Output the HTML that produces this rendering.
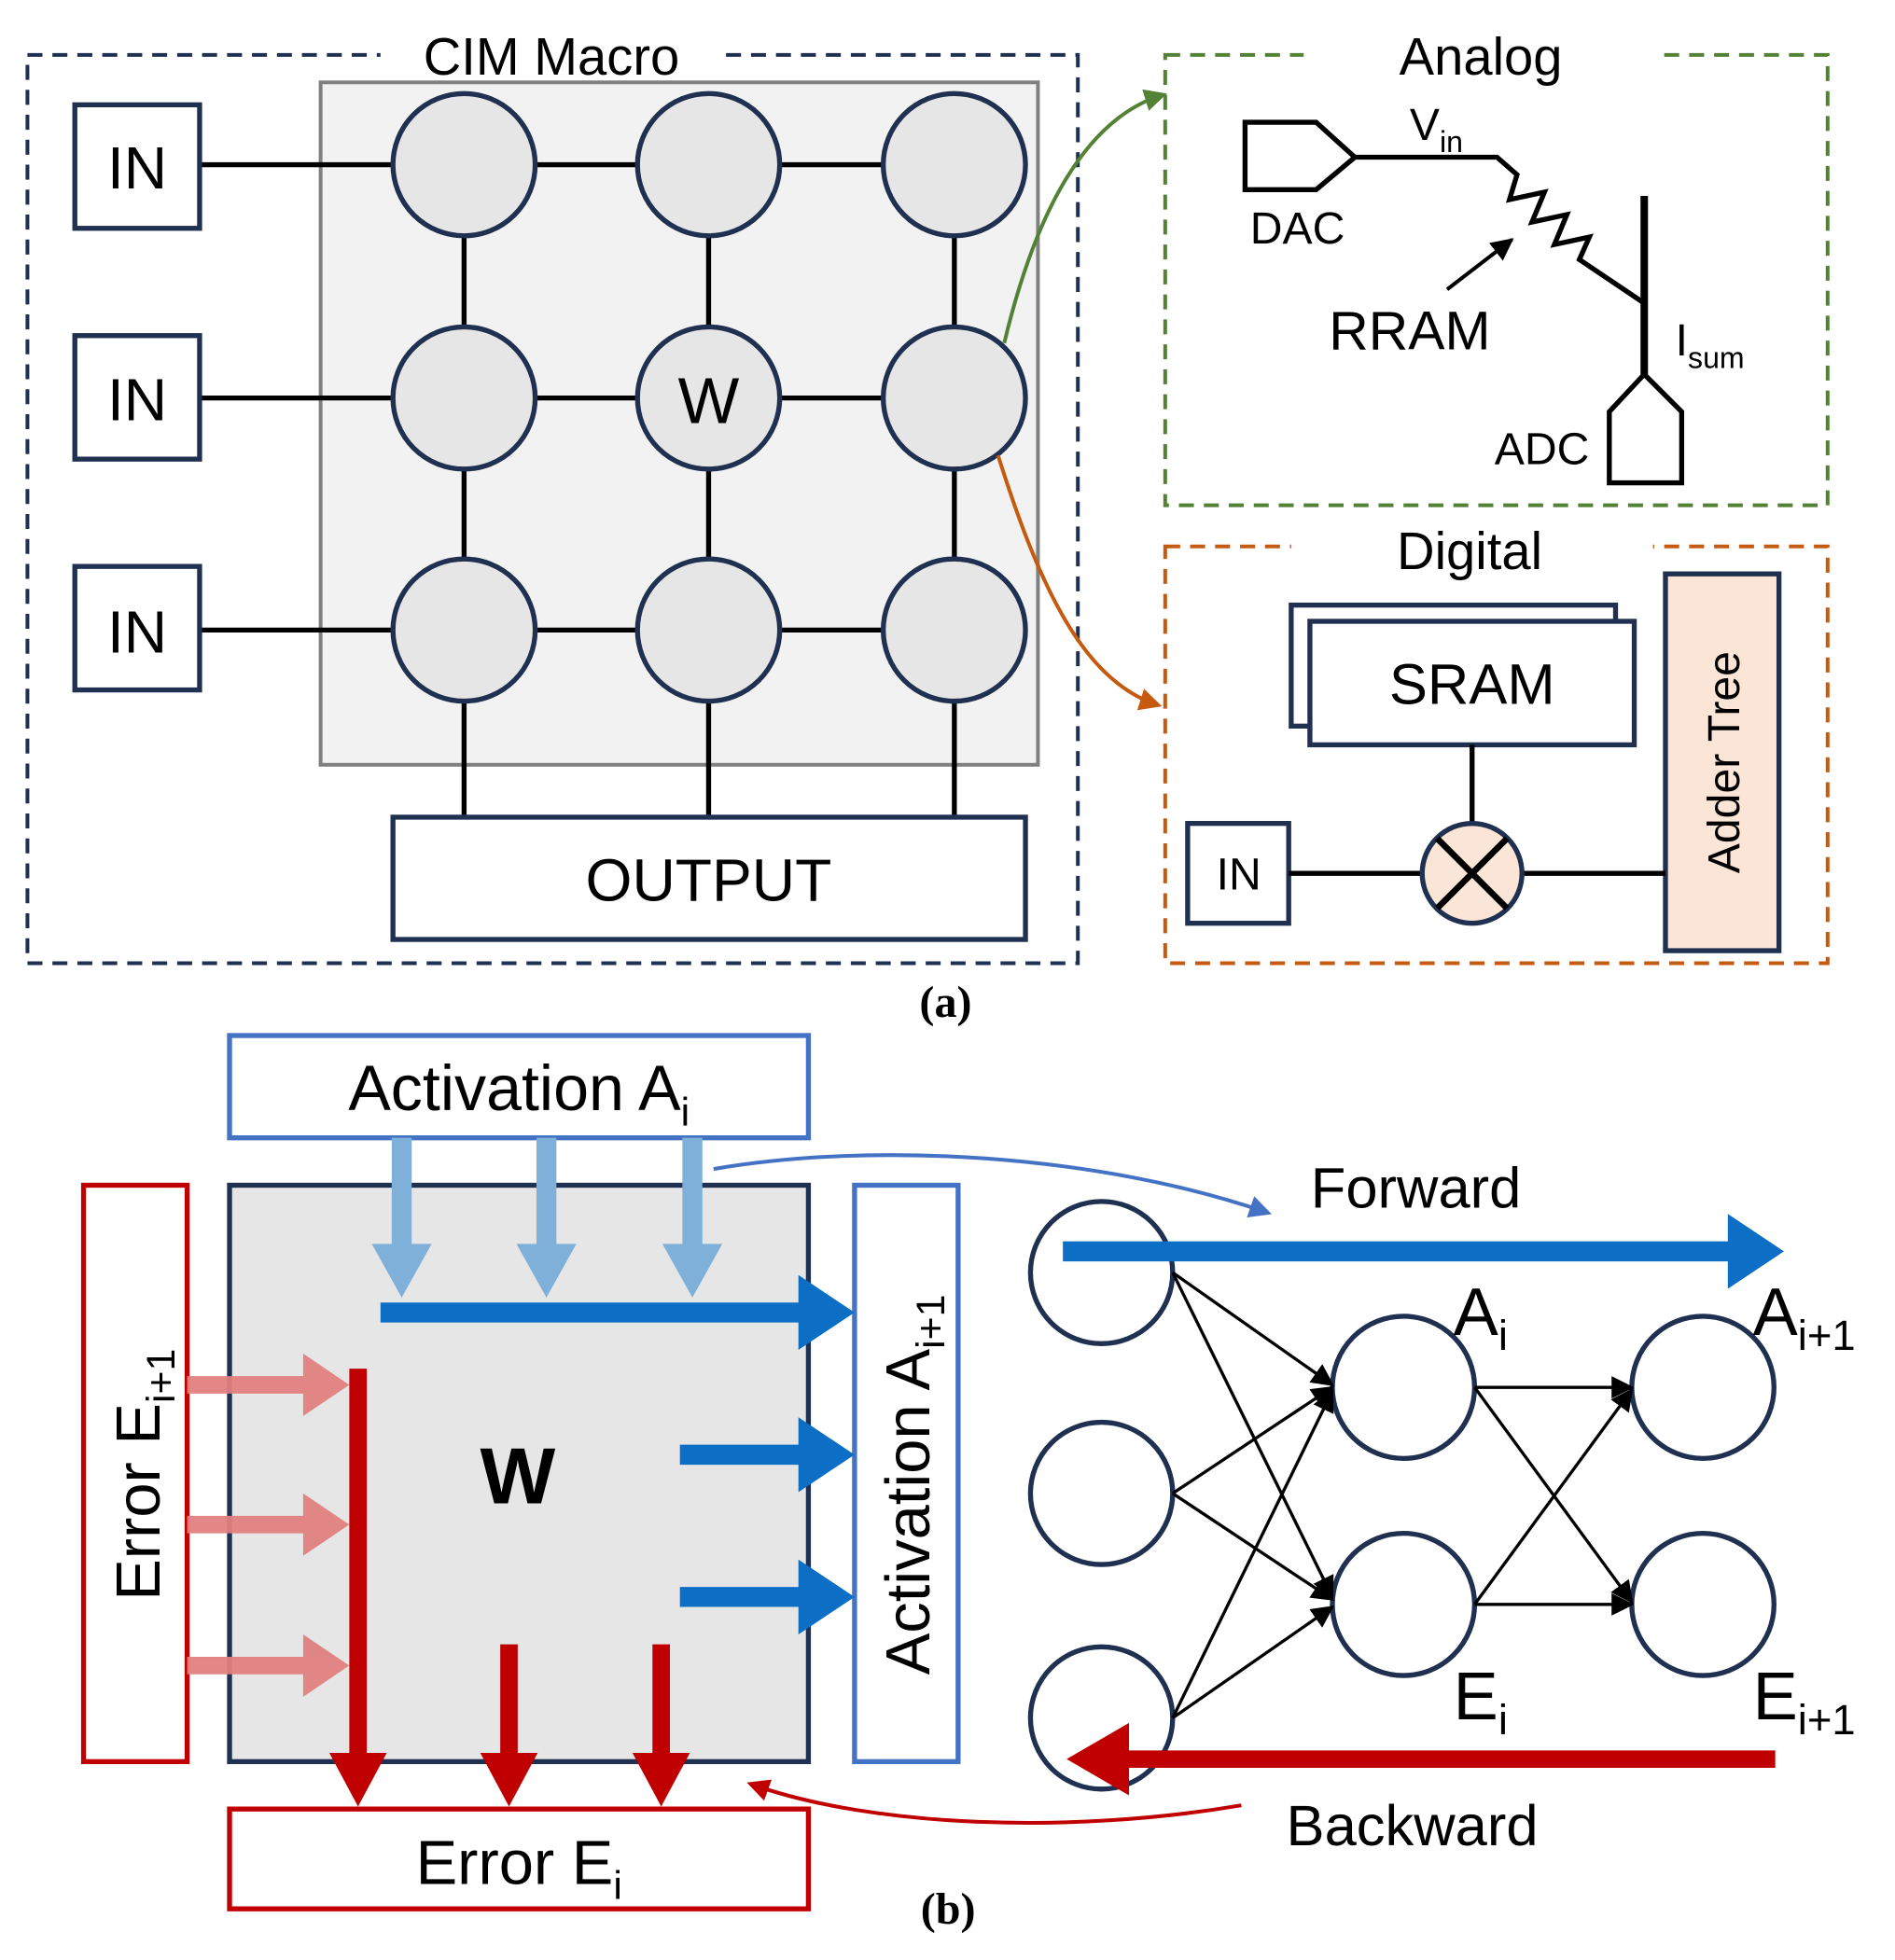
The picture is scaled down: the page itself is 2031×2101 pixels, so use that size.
<!DOCTYPE html>
<html><head><meta charset="utf-8"><style>
html,body{margin:0;padding:0;background:#fff}
svg{display:block}
text{font-family:"Liberation Sans",sans-serif;fill:#000}
</style></head><body>
<svg width="2031" height="2101" viewBox="0 0 1519 1571" preserveAspectRatio="none" xmlns="http://www.w3.org/2000/svg">
<defs>
<marker id="ao" viewBox="0 0 10 10" markerWidth="18" markerHeight="18" refX="8" refY="5" orient="auto" markerUnits="userSpaceOnUse"><path d="M0,0 L10,5 L0,10 z" fill="#c55a11"/></marker>
<marker id="agr" viewBox="0 0 10 10" markerWidth="18" markerHeight="18" refX="8" refY="5" orient="auto" markerUnits="userSpaceOnUse"><path d="M0,0 L10,5 L0,10 z" fill="#538135"/></marker>
<marker id="ab" viewBox="0 0 10 10" markerWidth="18" markerHeight="18" refX="8" refY="5" orient="auto" markerUnits="userSpaceOnUse"><path d="M0,0 L10,5 L0,10 z" fill="#4472c4"/></marker>
<marker id="ar" viewBox="0 0 10 10" markerWidth="18" markerHeight="18" refX="8" refY="5" orient="auto" markerUnits="userSpaceOnUse"><path d="M0,0 L10,5 L0,10 z" fill="#c00000"/></marker>
<marker id="ak" viewBox="0 0 10 10" markerWidth="18" markerHeight="18" refX="9" refY="5" orient="auto" markerUnits="userSpaceOnUse"><path d="M0,0 L10,5 L0,10 z" fill="#000"/></marker>
</defs>

<rect x="22" y="44" width="842" height="728" fill="none" stroke="#1f3050" stroke-width="3" stroke-dasharray="12,8"/>
<rect x="305" y="30" width="275" height="30" fill="#fff"/>
<text x="442" y="60" font-size="42" text-anchor="middle">CIM Macro</text>
<rect x="257" y="66" width="575" height="547" fill="#f2f2f2" stroke="#808080" stroke-width="3"/>
<g stroke="#000" stroke-width="4">
<line x1="160" y1="132" x2="765" y2="132"/><line x1="160" y1="319" x2="765" y2="319"/><line x1="160" y1="505" x2="765" y2="505"/>
<line x1="372" y1="132" x2="372" y2="655"/><line x1="568" y1="132" x2="568" y2="655"/><line x1="765" y1="132" x2="765" y2="655"/>
</g>
<g fill="#fff" stroke="#1f3050" stroke-width="4">
<rect x="60" y="84" width="100" height="99"/><rect x="60" y="269" width="100" height="99"/><rect x="60" y="454" width="100" height="99"/>
<rect x="315" y="655" width="507" height="98"/>
</g>
<g fill="#e6e6e6" stroke="#1f3050" stroke-width="4">
<circle cx="372" cy="132" r="57"/><circle cx="568" cy="132" r="57"/><circle cx="765" cy="132" r="57"/>
<circle cx="372" cy="319" r="57"/><circle cx="568" cy="319" r="57"/><circle cx="765" cy="319" r="57"/>
<circle cx="372" cy="505" r="57"/><circle cx="568" cy="505" r="57"/><circle cx="765" cy="505" r="57"/>
</g>
<g font-size="48" text-anchor="middle">
<text x="110" y="151">IN</text><text x="110" y="337">IN</text><text x="110" y="523">IN</text>
<text x="568" y="339" font-size="52">W</text>
<text x="568" y="722">OUTPUT</text>
</g>
<text x="758" y="815" font-size="36" font-weight="bold" text-anchor="middle" style="font-family:'Liberation Serif',serif">(a)</text>

<rect x="934" y="44" width="531" height="361" fill="none" stroke="#538135" stroke-width="3" stroke-dasharray="12,8"/>
<rect x="1045" y="28" width="285" height="32" fill="#fff"/>
<text x="1187" y="60" font-size="42" text-anchor="middle">Analog</text>
<g fill="none" stroke="#000" stroke-width="4">
<path d="M998,98 L1055,98 L1086,126 L1055,152 L998,152 Z"/>
<path d="M1086,126 L1200,126 L1216,140 L1210,160 L1238,154 L1228,178 L1256,172 L1246,196 L1274,190 L1266,208 L1318,243"/>
<line x1="1318" y1="157" x2="1318" y2="300" stroke-width="6"/>
<path d="M1318,300 L1348,330 L1348,387 L1290,387 L1290,330 Z"/>
<line x1="1160" y1="232" x2="1212" y2="192" stroke-width="3" marker-end="url(#ak)"/>
</g>
<text x="1040" y="195" font-size="36" text-anchor="middle">DAC</text>
<text x="1130" y="112" font-size="36">V<tspan font-size="24" dy="10">in</tspan></text>
<text x="1130" y="280" font-size="44" text-anchor="middle">RRAM</text>
<text x="1343" y="285" font-size="36">I<tspan font-size="24" dy="10">sum</tspan></text>
<text x="1236" y="372" font-size="36" text-anchor="middle">ADC</text>

<rect x="934" y="438" width="531" height="334" fill="none" stroke="#c55a11" stroke-width="3" stroke-dasharray="12,8"/>
<rect x="1035" y="424" width="290" height="30" fill="#fff"/>
<text x="1178" y="456" font-size="42" text-anchor="middle">Digital</text>
<g stroke="#1f3050" stroke-width="4" fill="#fff">
<rect x="1035" y="485" width="260" height="97"/>
<rect x="1050" y="498" width="260" height="99"/>
<rect x="952" y="660" width="81" height="80"/>
<rect x="1335" y="460" width="91" height="302" fill="#fbe5d6"/>
</g>
<g stroke="#000" stroke-width="4">
<line x1="1180" y1="597" x2="1180" y2="660"/>
<line x1="1033" y1="700" x2="1140" y2="700"/>
<line x1="1220" y1="700" x2="1335" y2="700"/>
</g>
<circle cx="1180" cy="700" r="40" fill="#fbe5d6" stroke="#1f3050" stroke-width="4"/>
<g stroke="#000" stroke-width="5"><line x1="1152" y1="672" x2="1208" y2="728"/><line x1="1208" y1="672" x2="1152" y2="728"/></g>
<text x="1180" y="564" font-size="46" text-anchor="middle">SRAM</text>
<text x="993" y="713" font-size="36" text-anchor="middle">IN</text>
<text x="0" y="0" font-size="36" text-anchor="middle" transform="translate(1394,611) rotate(-90)">Adder Tree</text>

<path d="M805,275 C830,170 870,95 932,76" fill="none" stroke="#538135" stroke-width="3" marker-end="url(#agr)"/>
<path d="M800,365 C830,460 865,545 928,565" fill="none" stroke="#c55a11" stroke-width="3" marker-end="url(#ao)"/>

<rect x="184" y="830" width="464" height="82" fill="#fff" stroke="#4472c4" stroke-width="4"/>
<text x="416" y="890" font-size="51" text-anchor="middle">Activation A<tspan font-size="32" dy="12">i</tspan></text>
<rect x="184" y="950" width="464" height="462" fill="#e6e6e6" stroke="#1f3050" stroke-width="4"/>
<rect x="67" y="950" width="83" height="462" fill="#fff" stroke="#c00000" stroke-width="4"/>
<rect x="685" y="950" width="83" height="462" fill="#fff" stroke="#4472c4" stroke-width="4"/>
<rect x="184" y="1450" width="464" height="80" fill="#fff" stroke="#c00000" stroke-width="4"/>
<text x="416" y="1510" font-size="50" text-anchor="middle">Error E<tspan font-size="32" dy="12">i</tspan></text>
<text x="0" y="0" font-size="50" text-anchor="middle" transform="translate(128,1182) rotate(-90)">Error E<tspan font-size="32" dy="12">i+1</tspan></text>
<text x="0" y="0" font-size="50" text-anchor="middle" transform="translate(745,1190) rotate(-90)">Activation A<tspan font-size="32" dy="12">i+1</tspan></text>
<text x="415" y="1205" font-size="64" font-weight="bold" text-anchor="middle">W</text>

<g fill="#7fb0da">
<path d="M314,912 h16 v85 h16 l-24,43 l-24,-43 h16 z"/>
<path d="M430,912 h16 v85 h16 l-24,43 l-24,-43 h16 z"/>
<path d="M547,912 h16 v85 h16 l-24,43 l-24,-43 h16 z"/>
</g>
<g fill="#0d6ec6">
<path d="M305,1044 h335 v-22 l45,30 l-45,30 v-22 h-335 z"/>
<path d="M545,1158 h95 v-22 l45,30 l-45,30 v-22 h-95 z"/>
<path d="M545,1272 h95 v-22 l45,30 l-45,30 v-22 h-95 z"/>
</g>
<g fill="#e08080" opacity="0.95">
<path d="M150,1103 h93 v-18 l37,25 l-37,25 v-18 h-93 z"/>
<path d="M150,1215 h93 v-18 l37,25 l-37,25 v-18 h-93 z"/>
<path d="M150,1328 h93 v-18 l37,25 l-37,25 v-18 h-93 z"/>
</g>
<g fill="#c00000">
<path d="M280,1097 h14 v308 h16 l-23,43 l-23,-43 h16 z"/>
<path d="M401,1318 h14 v87 h16 l-23,43 l-23,-43 h16 z"/>
<path d="M523,1318 h14 v87 h16 l-23,43 l-23,-43 h16 z"/>
</g>

<path d="M572,937 C700,915 880,925 1016,972" fill="none" stroke="#4472c4" stroke-width="3" marker-end="url(#ab)"/>
<text x="1135" y="968" font-size="46" text-anchor="middle">Forward</text>

<g fill="#fff" stroke="#1f3050" stroke-width="4">
<circle cx="883" cy="1020" r="57"/><circle cx="883" cy="1197" r="57"/><circle cx="883" cy="1377" r="57"/>
<circle cx="1125" cy="1112" r="57"/><circle cx="1125" cy="1286" r="57"/>
<circle cx="1365" cy="1112" r="57"/><circle cx="1365" cy="1286" r="57"/>
</g>
<g stroke="#000" stroke-width="2.5" marker-end="url(#ak)">
<line x1="940" y1="1020" x2="1068" y2="1110"/>
<line x1="940" y1="1020" x2="1068" y2="1280"/>
<line x1="940" y1="1197" x2="1068" y2="1112"/>
<line x1="940" y1="1197" x2="1068" y2="1282"/>
<line x1="940" y1="1377" x2="1068" y2="1115"/>
<line x1="940" y1="1377" x2="1068" y2="1288"/>
<line x1="1182" y1="1112" x2="1308" y2="1112"/>
<line x1="1182" y1="1112" x2="1308" y2="1284"/>
<line x1="1182" y1="1286" x2="1308" y2="1114"/>
<line x1="1182" y1="1286" x2="1308" y2="1286"/>
</g>
<path d="M852,995 h533 v-22 l45,30 l-45,30 v-22 h-533 z" fill="#0d6ec6"/>
<path d="M1423,1403 h-518 v-22 l-50,29 l50,29 v-22 h518 z" fill="#c00000"/>
<text x="1165" y="1070" font-size="54">A<tspan font-size="34" dy="12">i</tspan></text>
<text x="1405" y="1070" font-size="54">A<tspan font-size="34" dy="12">i+1</tspan></text>
<text x="1165" y="1378" font-size="54">E<tspan font-size="34" dy="12">i</tspan></text>
<text x="1405" y="1378" font-size="54">E<tspan font-size="34" dy="12">i+1</tspan></text>

<path d="M995,1447 C860,1470 700,1465 602,1430" fill="none" stroke="#c00000" stroke-width="3" marker-end="url(#ar)"/>
<text x="1132" y="1479" font-size="46" text-anchor="middle">Backward</text>
<text x="760" y="1542" font-size="36" font-weight="bold" text-anchor="middle" style="font-family:'Liberation Serif',serif">(b)</text>
</svg>
</body></html>
